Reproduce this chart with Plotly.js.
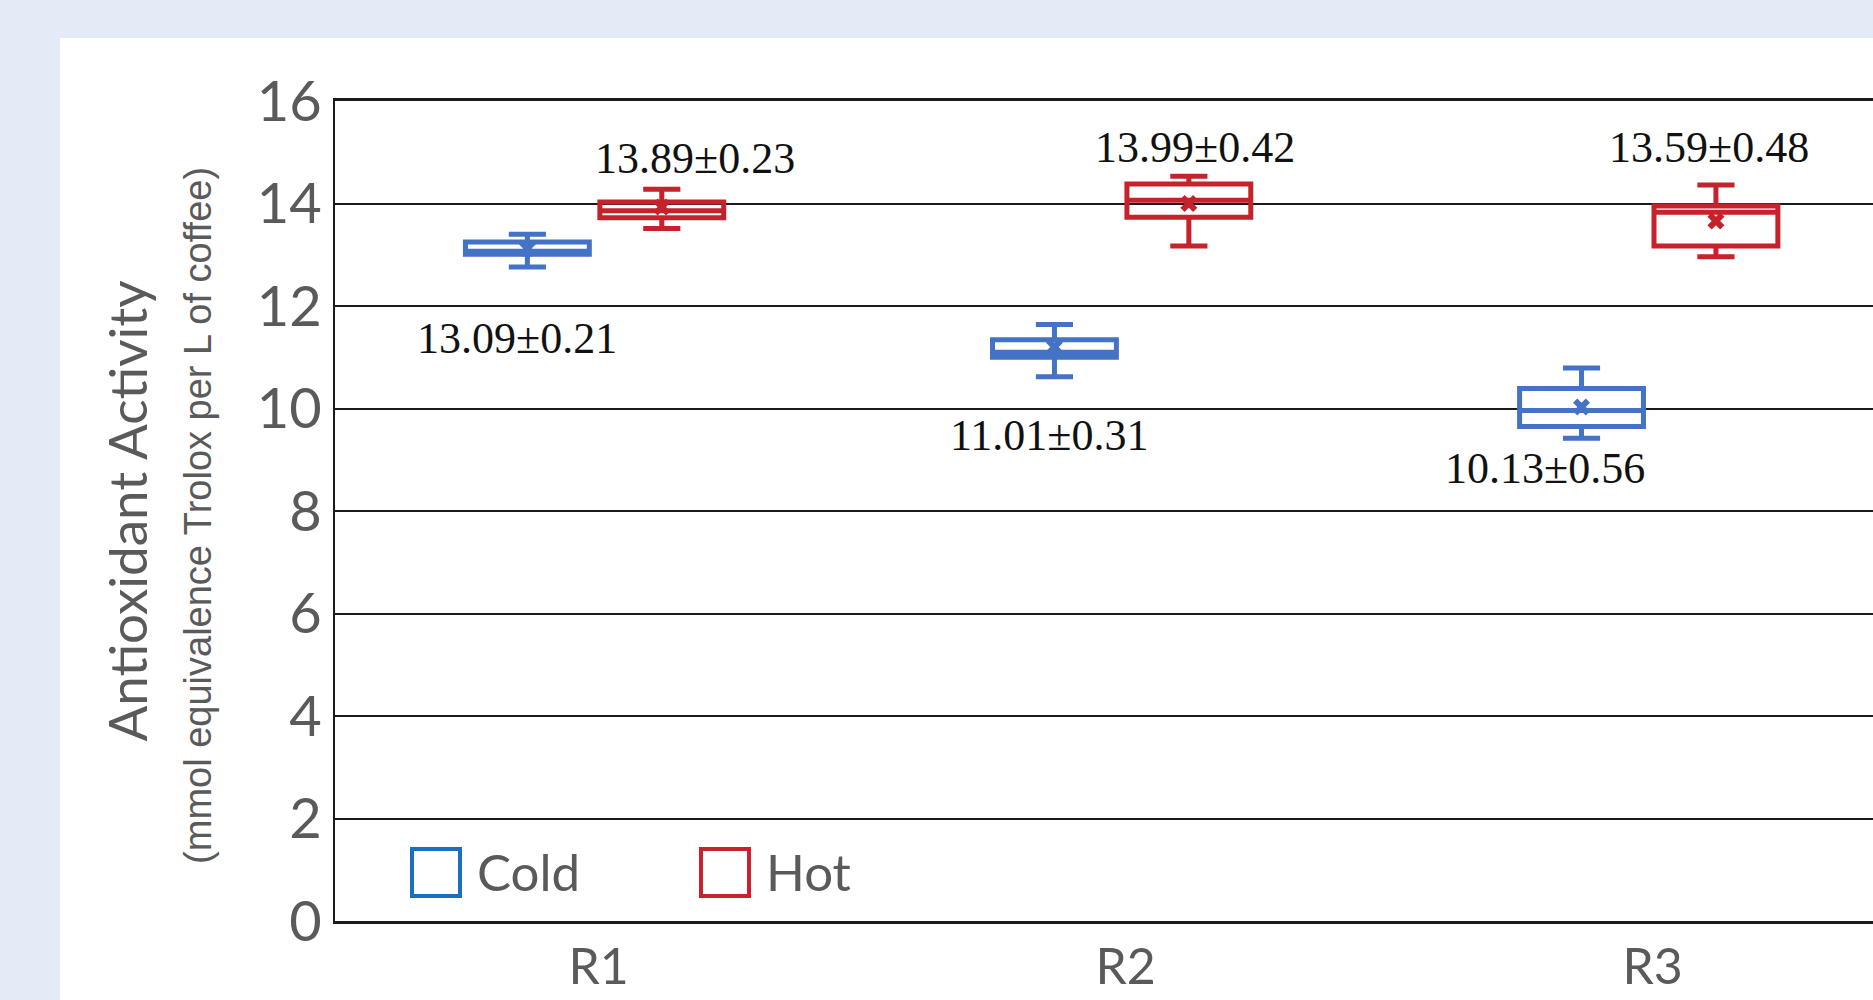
<!DOCTYPE html>
<html>
<head>
<meta charset="utf-8">
<script src="https://cdn.plot.ly/plotly-3.0.1.min.js"></script>
<style>
  html, body { margin: 0; padding: 0; background: #E4EAF6; width: 1873px; height: 1000px; overflow: hidden; }
  #chart { position: absolute; left: 60px; top: 38px; width: 1813px; height: 962px; }
</style>
</head>
<body>
<div id="chart"></div>
<script>
// ---- data ----
const categories = ['R1', 'R2', 'R3'];
const seriesNames = ['Cold', 'Hot'];

const coldLower  = [12.76, 10.62, 9.42];
const coldQ1     = [13.01, 11.00, 9.65];
const coldMedian = [13.07, 11.10, 9.96];
const coldQ3     = [13.25, 11.34, 10.39];
const coldUpper  = [13.40, 11.64, 10.79];
const coldMeanMark = [13.12, 11.20, 10.03];
const coldLabels = ['13.09±0.21', '11.01±0.31', '10.13±0.56'];

const hotLower  = [13.51, 13.17, 12.96];
const hotQ1     = [13.72, 13.73, 13.17];
const hotMedian = [13.86, 14.065, 13.83];
const hotQ3     = [14.03, 14.38, 13.95];
const hotUpper  = [14.28, 14.53, 14.36];
const hotMeanMark = [13.93, 14.00, 13.66];
const hotLabels = ['13.89±0.23', '13.99±0.42', '13.59±0.48'];

const yTicks = [0, 2, 4, 6, 8, 10, 12, 14, 16];

// ---- layout / style settings ----
const coldColor = '#4472C4', hotColor = '#C5222C';
const coldLegendColor = '#1A6FBF', hotLegendColor = '#C8232C';
const textGrey = '#5A5A5A';
const coldOffset = -0.135, hotOffset = 0.12, boxW = 0.235;
const coldLabelDX = [-0.02, -0.01, -0.07];
const hotLabelDX  = [0.063, 0.012, -0.013];
const coldLabelY = [11.36, 9.47, 8.83];
const hotLabelY  = [14.87, 15.1, 15.1];
const labelFont = { family: 'Liberation Serif, DejaVu Serif, serif', size: 44, color: '#111' };

const idx = categories.map((_, i) => i);
const coldX = idx.map(i => i + coldOffset);
const hotX  = idx.map(i => i + hotOffset);

function boxTrace(name, xs, lo, q1, med, q3, up, color) {
  return {
    type: 'box', name: name, x: xs,
    lowerfence: lo, q1: q1, median: med, q3: q3, upperfence: up,
    width: boxW, whiskerwidth: 0.3,
    line: { color: color, width: 5 },
    fillcolor: 'rgba(255,255,255,0)',
    boxpoints: false, hoverinfo: 'y', showlegend: false
  };
}
function meanTrace(name, xs, ys, color) {
  return {
    type: 'scatter', mode: 'markers', name: name + ' mean', x: xs, y: ys,
    marker: { symbol: 'x', size: 15, color: color, line: { width: 0 } },
    showlegend: false, hoverinfo: 'y'
  };
}

const data = [
  boxTrace(seriesNames[0], coldX, coldLower, coldQ1, coldMedian, coldQ3, coldUpper, coldColor),
  boxTrace(seriesNames[1], hotX, hotLower, hotQ1, hotMedian, hotQ3, hotUpper, hotColor),
  meanTrace(seriesNames[0], coldX, coldMeanMark, coldColor),
  meanTrace(seriesNames[1], hotX, hotMeanMark, hotColor)
];

const annotations = [];
idx.forEach(i => {
  annotations.push({ xref: 'x', yref: 'y', x: coldX[i] + coldLabelDX[i], y: coldLabelY[i], text: coldLabels[i],
    showarrow: false, xanchor: 'center', yanchor: 'middle', font: labelFont });
  annotations.push({ xref: 'x', yref: 'y', x: hotX[i] + hotLabelDX[i], y: hotLabelY[i], text: hotLabels[i],
    showarrow: false, xanchor: 'center', yanchor: 'middle', font: labelFont });
});
// y-axis subtitle
const subtitleText = '(mmol equivalence Trolox per L of coffee)';
annotations.push({ xref: 'paper', yref: 'paper', x: 0, y: 0.494, xshift: -137, textangle: -90,
  text: subtitleText, showarrow: false, xanchor: 'center', yanchor: 'middle',
  font: { family: 'Liberation Sans, Arial, sans-serif', size: 38, color: textGrey } });
// legend texts
const legendFont = { family: 'Lato, sans-serif', size: 51, color: textGrey };
annotations.push({ xref: 'paper', yref: 'paper', x: 0, y: 0.0598, xshift: 140, text: seriesNames[0], showarrow: false,
  xanchor: 'left', yanchor: 'middle', font: legendFont });
annotations.push({ xref: 'paper', yref: 'paper', x: 0, y: 0.0598, xshift: 429, text: seriesNames[1], showarrow: false,
  xanchor: 'left', yanchor: 'middle', font: legendFont });

const shapes = [
  { type: 'rect', xref: 'paper', yref: 'paper', xsizemode: 'pixel', ysizemode: 'pixel', xanchor: 0, yanchor: 0,
    x0: 77, x1: 125, y0: 25, y1: 72, line: { color: coldLegendColor, width: 4 }, fillcolor: 'rgba(0,0,0,0)' },
  { type: 'rect', xref: 'paper', yref: 'paper', xsizemode: 'pixel', ysizemode: 'pixel', xanchor: 0, yanchor: 0,
    x0: 366, x1: 414, y0: 25, y1: 72, line: { color: hotLegendColor, width: 4 }, fillcolor: 'rgba(0,0,0,0)' }
];

const layout = {
  width: 1813, height: 962,
  paper_bgcolor: '#FFFFFF', plot_bgcolor: '#FFFFFF',
  margin: { l: 275, r: 0, t: 63, b: 79, pad: 0 },
  showlegend: false,
  boxmode: 'overlay',
  xaxis: {
    range: [-0.5, 2.418], tickvals: idx, ticktext: categories,
    showgrid: false, zeroline: false, showline: true, linecolor: '#1a1a1a', linewidth: 3, mirror: true,
    ticks: '', tickfont: { family: 'Lato, sans-serif', size: 50, color: textGrey }, ticklabelstandoff: 0
  },
  yaxis: {
    range: [0, 16], tickvals: yTicks, ticks: '',
    showgrid: true, gridcolor: '#1a1a1a', gridwidth: 2, zeroline: false,
    showline: true, linecolor: '#1a1a1a', linewidth: 2,
    tickfont: { family: 'Lato, sans-serif', size: 56, color: textGrey }, ticklabelstandoff: 0,
    title: { text: 'Antioxidant Activity', standoff: 92,
      font: { family: 'Lato, sans-serif', size: 53, color: textGrey } }
  },
  annotations: annotations,
  shapes: shapes
};

Plotly.newPlot('chart', data, layout, { displayModeBar: false, staticPlot: true });
</script>
</body>
</html>
